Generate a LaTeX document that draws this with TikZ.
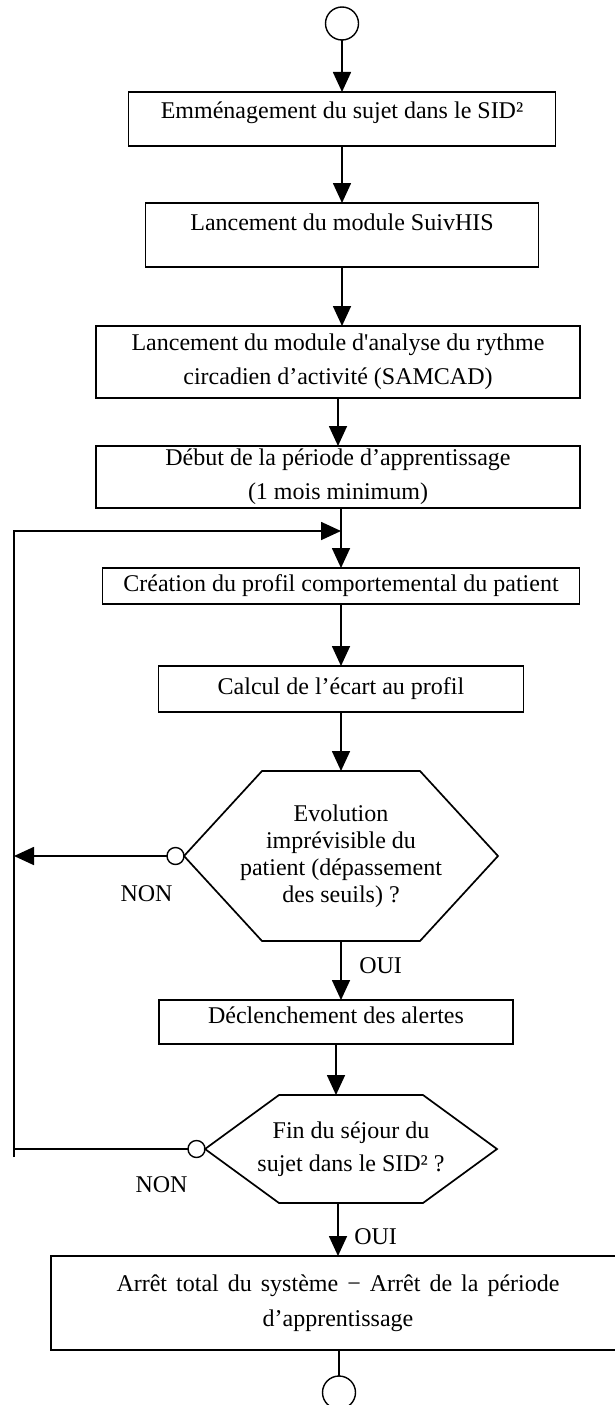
\documentclass[tikz,border=0pt]{standalone}
\usepackage{fontspec}
\setmainfont{Liberation Serif}[Ligatures=TeXOff]
\usetikzlibrary{arrows.meta, positioning, calc}

\begin{document}
\begin{tikzpicture}[
  x=1pt, y=1pt,
  line width=1.7pt,
  every node/.style={outer sep=0pt},
  box/.style={draw, align=center, inner ysep=3pt, font=\fontsize{24}{34}\selectfont},
  hexbox/.style={align=center, inner sep=0pt, font=\fontsize{24}{27}\selectfont},
  term/.style={draw, circle, minimum size=33pt, inner sep=0pt, line width=1.4pt},
  dot/.style={draw, circle, minimum size=17pt, inner sep=0pt, line width=1.4pt},
  lbl/.style={font=\fontsize{24}{27}\selectfont},
  arrow/.style={-{Triangle[length=20pt, width=18pt]}}
]
\useasboundingbox (0,0) rectangle (614,-1405);

\node[term] (start) at (342,-23.5) {};
\node[box, below=52pt of start, minimum width=427pt, minimum height=54pt, text height=16pt, text depth=17pt] (emmen) {Emménagement du sujet dans le SID²};
\node[box, below=57pt of emmen, minimum width=393pt, minimum height=64pt, text height=16pt, text depth=25pt] (suivhis) {Lancement du module SuivHIS};
\node[box, below=59pt of suivhis, xshift=-4pt, minimum width=484pt, minimum height=72pt] (samcad) {Lancement du module d'analyse du rythme\\circadien d’activité (SAMCAD)};
\node[box, below=48pt of samcad, minimum width=484pt, minimum height=62pt] (debut) {Début de la période d’apprentissage\\(1 mois minimum)};
\node[box, below=60pt of debut, xshift=3pt, minimum width=477pt, minimum height=36pt] (profil) {Création du profil comportemental du patient};
\node[box, below=62pt of profil, minimum width=365pt, minimum height=46pt] (ecart) {Calcul de l’écart au profil};
\node[hexbox, below=59pt of ecart, minimum width=314pt, minimum height=170pt] (evol) {Evolution\\imprévisible du\\patient (dépassement\\des seuils) ?};
\node[box, below=59pt of evol, xshift=-5pt, minimum width=354pt, minimum height=44pt, text height=16pt, text depth=13pt] (alertes) {Déclenchement des alertes};
\node[hexbox, below=51pt of alertes, xshift=15pt, minimum width=292pt, minimum height=108pt, font=\fontsize{24}{33}\selectfont] (fin) {Fin du séjour du\\sujet dans le SID² ?};
\node[box, below=53pt of fin, xshift=-13pt, minimum width=574pt, minimum height=94pt, font=\fontsize{24}{35}\selectfont] (arret) {\makebox[443pt][s]{Arrêt total du système − Arrêt de la période}\\d’apprentissage};
\node[term, below=26pt of arret, xshift=1pt] (stop) {};

% decisions
\draw (evol.west) -- ($(evol.north west)+(78,0)$) -- ($(evol.north east)+(-78,0)$) -- (evol.east) -- ($(evol.south east)+(-78,0)$) -- ($(evol.south west)+(78,0)$) -- cycle;
\draw (fin.west) -- ($(fin.north west)+(74,0)$) -- ($(fin.north east)+(-74,0)$) -- (fin.east) -- ($(fin.south east)+(-74,0)$) -- ($(fin.south west)+(74,0)$) -- cycle;
\node[dot, left=0pt of evol.west] (o1) {};
\node[dot, left=0pt of fin.west] (o2) {};
\node[lbl] (non1) at ($(o1)+(-29,-38)$) {NON};
\node[lbl] (non2) at ($(o2)+(-35,-36)$) {NON};

\coordinate (rail) at (14,-1157);
\coordinate (join) at ($(profil.north)+(0,37)$);

\draw[arrow] (start) -- (emmen);
\draw[arrow] (emmen) -- (suivhis);
\draw[arrow] (suivhis.south) -- (suivhis.south |- samcad.north);
\draw[arrow] (samcad) -- (debut);
\draw[arrow] (profil.north |- debut.south) -- (profil.north);
\draw[arrow] (profil.south) -- (ecart.north);
\draw[arrow] (ecart.south) -- (evol.north);
\draw[arrow] (evol.south) -- node[lbl, right=15pt, yshift=5pt] (oui1) {OUI} (evol.south |- alertes.north);
\draw[arrow] (alertes.south) -- (alertes.south |- fin.north);
\draw[arrow] (arret.north |- fin.south) -- node[lbl, right=13pt, yshift=-7pt] (oui2) {OUI} (arret.north);
\draw (stop.north |- arret.south) -- (stop);

% loop back
\draw[arrow] (o2.west) -| (rail |- join) -- (join);
\draw (rail) -- (rail |- o2);
\draw[arrow] (o1.west) -- (o1.west -| rail);
\end{tikzpicture}
\end{document}
